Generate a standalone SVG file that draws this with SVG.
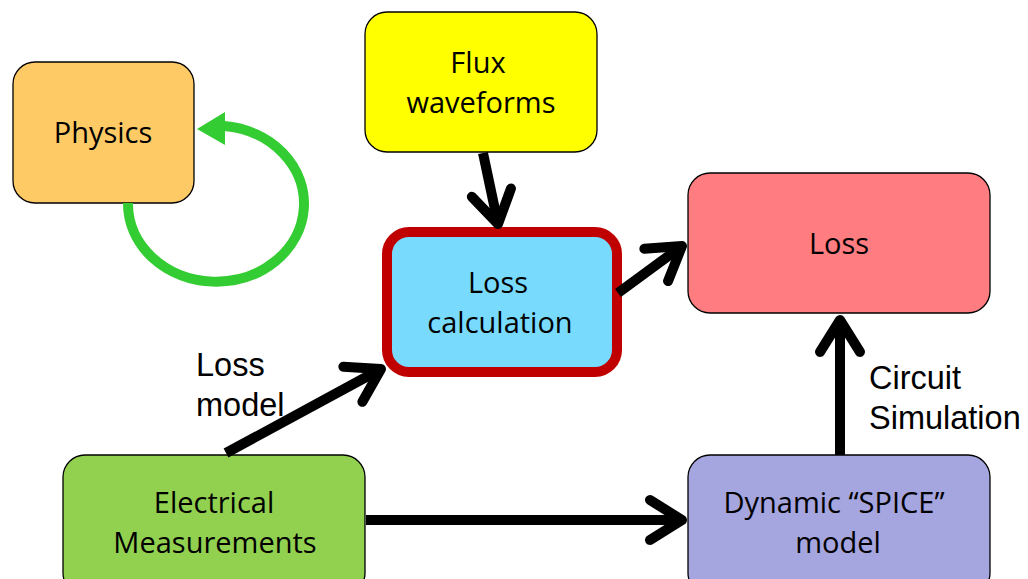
<svg xmlns="http://www.w3.org/2000/svg" width="1028" height="579" viewBox="0 0 1028 579">
<style>
.box{stroke:#000;stroke-width:1.3}
.nt{font-family:"Open Sans","Noto Sans",sans-serif;font-size:29px;fill:#000;text-anchor:middle}
.lab{font-family:"Liberation Sans",Arial,sans-serif;font-size:32.5px;fill:#000}
.conn{stroke:#000;stroke-width:10;fill:none}
</style>
<defs>
<marker id="chev" markerUnits="userSpaceOnUse" viewBox="-40 -28 48 56" markerWidth="48" markerHeight="56" refX="0" refY="0" orient="auto">
<path d="M-32,-20 L0,0 L-32,20" fill="none" stroke="#000" stroke-width="10" stroke-linecap="round" stroke-linejoin="round"/>
</marker>
</defs>
<rect width="1028" height="579" fill="#fff"/>
<g id="physics">
<rect class="box" x="13" y="62" width="181" height="141" rx="22" fill="#FDCA66"/>
<text class="nt" x="103" y="143">Physics</text>
</g>
<g id="physics-loop">
<path d="M128,203 A88,78 0 1 0 224,126" fill="none" stroke="#33CC33" stroke-width="10"/>
<polygon points="197,129 225,112 225,145" fill="#33CC33"/>
</g>
<g id="flux">
<rect class="box" x="365" y="12" width="232" height="140" rx="22" fill="#FFFF00"/>
<text class="nt" x="478" y="73">Flux</text>
<text class="nt" x="481" y="113">waveforms</text>
</g>
<g id="losscalc">
<rect x="387" y="232" width="230" height="140" rx="22" fill="#78DBFE" stroke="#C00000" stroke-width="10"/>
<text class="nt" x="498" y="293">Loss</text>
<text class="nt" x="500" y="333">calculation</text>
</g>
<g id="loss">
<rect class="box" x="688" y="173" width="302" height="140" rx="22" fill="#FF7C80"/>
<text class="nt" x="839" y="254">Loss</text>
</g>
<g id="electrical">
<rect class="box" x="63" y="455" width="302" height="140" rx="22" fill="#92D050"/>
<text class="nt" x="214" y="513">Electrical</text>
<text class="nt" x="215" y="553">Measurements</text>
</g>
<g id="spice">
<rect class="box" x="688" y="455" width="302" height="140" rx="22" fill="#A5A5DF"/>
<text class="nt" x="834" y="513">Dynamic “SPICE”</text>
<text class="nt" x="838" y="553">model</text>
</g>
<g id="connectors">
<line class="conn" x1="483" y1="153" x2="498" y2="224" marker-end="url(#chev)"/>
<line class="conn" x1="618" y1="293" x2="682" y2="246" marker-end="url(#chev)"/>
<line class="conn" x1="226" y1="453" x2="381" y2="369" marker-end="url(#chev)"/>
<line class="conn" x1="366" y1="520" x2="682" y2="520" marker-end="url(#chev)"/>
<line class="conn" x1="840" y1="455" x2="840" y2="320" marker-end="url(#chev)"/>
</g>
<g id="labels">
<text class="lab" x="196" y="376">Loss</text>
<text class="lab" x="196" y="416">model</text>
<text class="lab" x="869" y="389">Circuit</text>
<text class="lab" x="869" y="429">Simulation</text>
</g>
</svg>
